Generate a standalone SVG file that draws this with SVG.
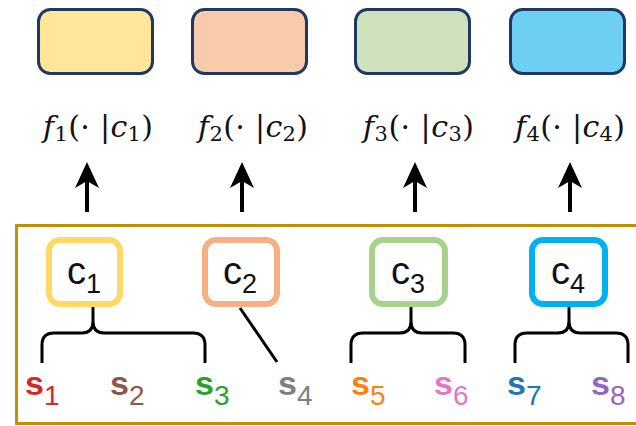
<svg xmlns="http://www.w3.org/2000/svg" width="636" height="426" viewBox="0 0 636 426">
  <defs>
    <style>
      .model { stroke: #1f3864; stroke-width: 3; }
      .fx { font-family: "DejaVu Serif", "Liberation Serif", serif; font-size: 30px; fill: #111; }
      .fx .it { font-style: italic; }
      .fx .sub { font-size: 21px; }
      .ctx { fill: #fff; stroke-width: 6; }
      .clab { font-family: "Liberation Sans", Arial, sans-serif; font-size: 38px; fill: #111; }
      .clab .sub { font-size: 27px; }
      .slab { font-family: "Liberation Sans", Arial, sans-serif; font-size: 34px; font-weight: bold; }
      .slab .sub { font-size: 28px; font-weight: normal; }
      .link { fill: none; stroke: #000; stroke-width: 3; stroke-linejoin: round; }
      .shaft { stroke: #000; stroke-width: 4; }
      .head { fill: #000; }
    </style>
  </defs>

  <!-- model boxes -->
  <g id="model-1"><rect class="model" x="38.5" y="9.5" width="114" height="64" rx="12" fill="#ffe699"/></g>
  <g id="model-2"><rect class="model" x="192.5" y="9.5" width="114" height="64" rx="12" fill="#f8cbad"/></g>
  <g id="model-3"><rect class="model" x="355.5" y="9.5" width="114" height="64" rx="12" fill="#cfe2bd"/></g>
  <g id="model-4"><rect class="model" x="510.5" y="9.5" width="114" height="64" rx="12" fill="#6dcff4"/></g>

  <!-- conditional functions -->
  <g id="func-1">
    <text class="fx" x="43" y="137" textLength="110" lengthAdjust="spacing"><tspan class="it">f</tspan><tspan class="sub" dy="4">1</tspan><tspan dy="-4">(· |</tspan><tspan class="it">c</tspan><tspan class="sub" dy="4">1</tspan><tspan dy="-4">)</tspan></text>
  </g>
  <g id="func-2">
    <text class="fx" x="198" y="137" textLength="110" lengthAdjust="spacing"><tspan class="it">f</tspan><tspan class="sub" dy="4">2</tspan><tspan dy="-4">(· |</tspan><tspan class="it">c</tspan><tspan class="sub" dy="4">2</tspan><tspan dy="-4">)</tspan></text>
  </g>
  <g id="func-3">
    <text class="fx" x="363" y="137" textLength="111" lengthAdjust="spacing"><tspan class="it">f</tspan><tspan class="sub" dy="4">3</tspan><tspan dy="-4">(· |</tspan><tspan class="it">c</tspan><tspan class="sub" dy="4">3</tspan><tspan dy="-4">)</tspan></text>
  </g>
  <g id="func-4">
    <text class="fx" x="515" y="137" textLength="110" lengthAdjust="spacing"><tspan class="it">f</tspan><tspan class="sub" dy="4">4</tspan><tspan dy="-4">(· |</tspan><tspan class="it">c</tspan><tspan class="sub" dy="4">4</tspan><tspan dy="-4">)</tspan></text>
  </g>

  <!-- frame around contexts and sources -->
  <g id="frame"><rect x="16.5" y="225.5" width="640" height="198" fill="none" stroke="#bf9000" stroke-width="3"/></g>

  <!-- context nodes -->
  <g id="ctx-1">
    <rect class="ctx" x="49" y="240" width="71" height="64" rx="11" stroke="#ffd966"/>
    <text class="clab" x="67" y="284">c<tspan class="sub" dy="9">1</tspan></text>
  </g>
  <g id="ctx-2">
    <rect class="ctx" x="205" y="240" width="72" height="64" rx="11" stroke="#f4b183"/>
    <text class="clab" x="223" y="284">c<tspan class="sub" dy="9">2</tspan></text>
  </g>
  <g id="ctx-3">
    <rect class="ctx" x="372" y="240" width="73" height="64" rx="11" stroke="#a9d18e"/>
    <text class="clab" x="391" y="284">c<tspan class="sub" dy="9">3</tspan></text>
  </g>
  <g id="ctx-4">
    <rect class="ctx" x="532" y="240" width="73" height="64" rx="11" stroke="#00b0f0"/>
    <text class="clab" x="551" y="284">c<tspan class="sub" dy="9">4</tspan></text>
  </g>

  <!-- sources -->
  <g id="src-1"><text class="slab" x="25" y="395" fill="#d62728">s<tspan class="sub" dy="10">1</tspan></text></g>
  <g id="src-2"><text class="slab" x="110" y="395" fill="#8c564b">s<tspan class="sub" dy="10">2</tspan></text></g>
  <g id="src-3"><text class="slab" x="195" y="395" fill="#2ca02c">s<tspan class="sub" dy="10">3</tspan></text></g>
  <g id="src-4"><text class="slab" x="278" y="395" fill="#7f7f7f">s<tspan class="sub" dy="10">4</tspan></text></g>
  <g id="src-5"><text class="slab" x="351" y="395" fill="#ff7f0e">s<tspan class="sub" dy="10">5</tspan></text></g>
  <g id="src-6"><text class="slab" x="434" y="395" fill="#e377c2">s<tspan class="sub" dy="10">6</tspan></text></g>
  <g id="src-7"><text class="slab" x="507" y="395" fill="#1f77b4">s<tspan class="sub" dy="10">7</tspan></text></g>
  <g id="src-8"><text class="slab" x="591" y="395" fill="#9467bd">s<tspan class="sub" dy="10">8</tspan></text></g>

  <!-- connectors: upward arrows, braces and the single link -->
  <g id="connectors">
    <g id="arrows">
      <line class="shaft" x1="87" y1="212" x2="87" y2="180"/>
      <path class="head" d="M87,162 L99,188 L87,181 L75,188 Z"/>
      <line class="shaft" x1="242" y1="212" x2="242" y2="180"/>
      <path class="head" d="M242,162 L254,188 L242,181 L230,188 Z"/>
      <line class="shaft" x1="415" y1="212" x2="415" y2="180"/>
      <path class="head" d="M415,162 L427,188 L415,181 L403,188 Z"/>
      <line class="shaft" x1="570" y1="212" x2="570" y2="180"/>
      <path class="head" d="M570,162 L582,188 L570,181 L558,188 Z"/>
    </g>
    <path class="link" d="M42,363 V345 Q42,333 54,333 H82 Q93,333 93,321 V307 M93,321 Q93,333 104,333 H193 Q205,333 205,345 V363"/>
    <path class="link" d="M240,308 L277,362"/>
    <path class="link" d="M351,363 V345 Q351,333 363,333 H400 Q411,333 411,321 V307 M411,321 Q411,333 422,333 H453 Q465,333 465,345 V363"/>
    <path class="link" d="M515,363 V345 Q515,333 527,333 H558 Q569,333 569,321 V307 M569,321 Q569,333 580,333 H616 Q628,333 628,345 V363"/>
  </g>
</svg>
